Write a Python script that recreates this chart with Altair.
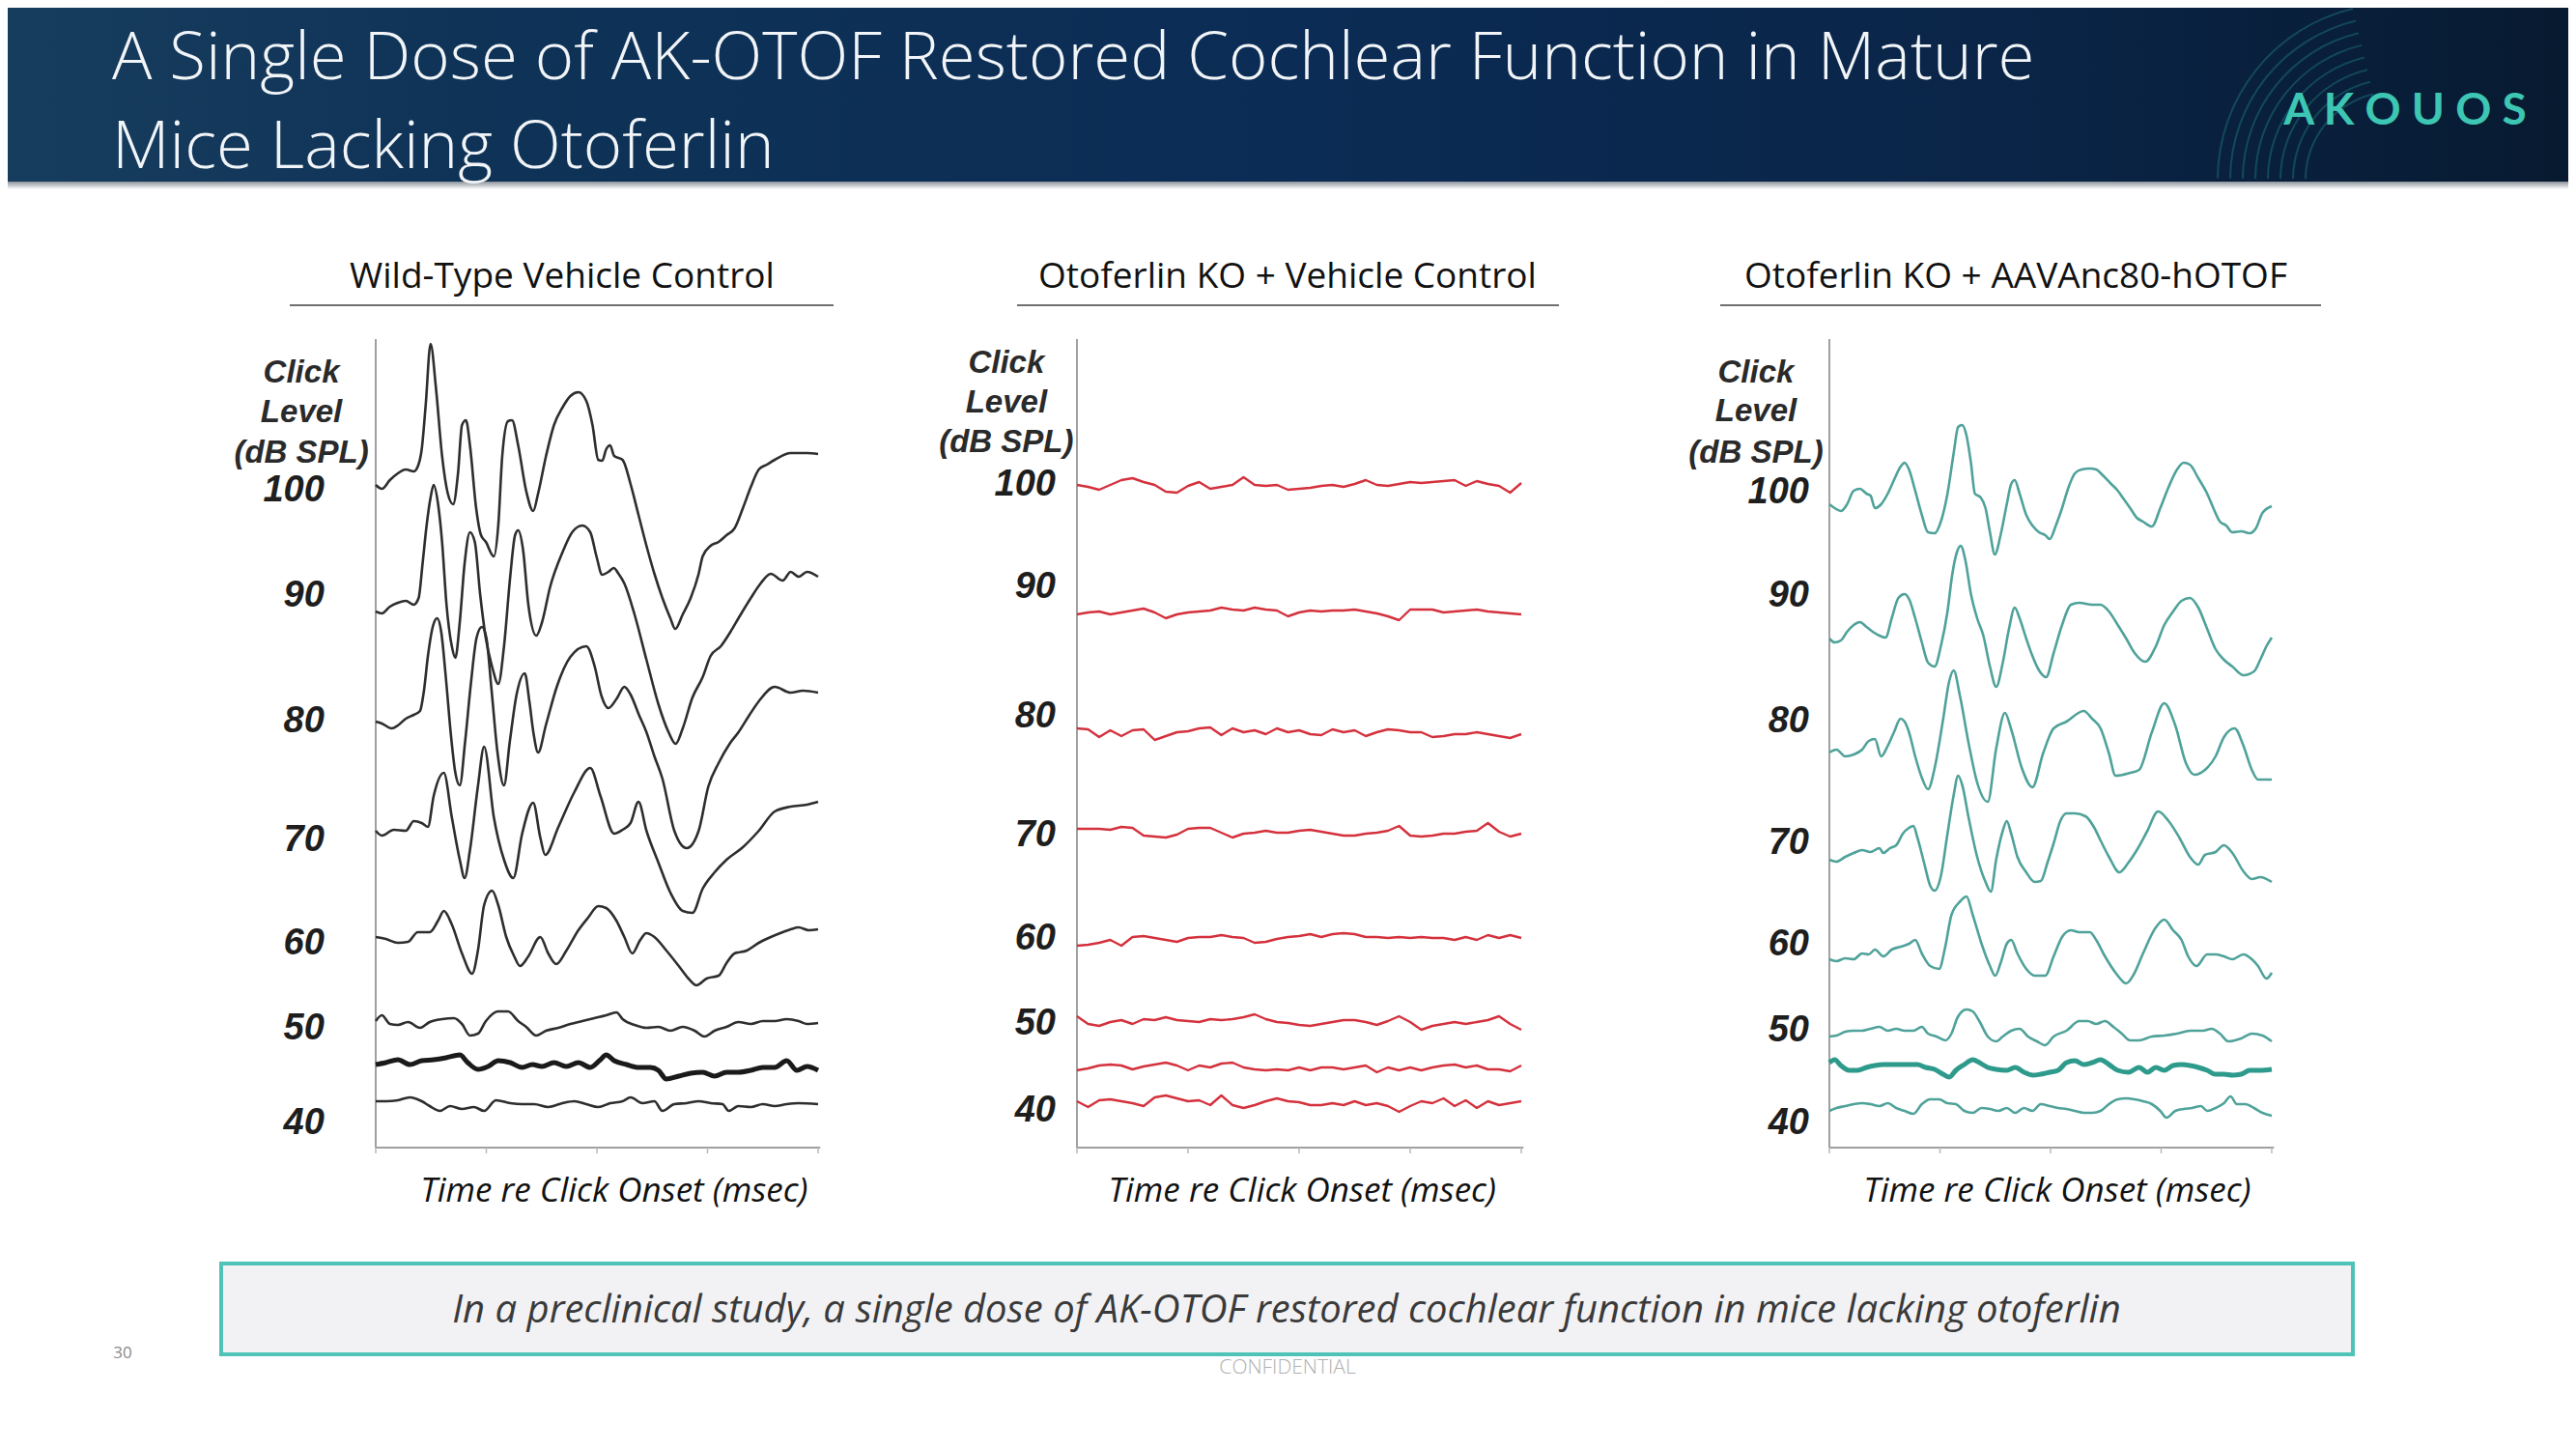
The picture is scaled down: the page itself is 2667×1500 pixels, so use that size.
import altair as alt
import pandas as pd

# ---------------- text ----------------
TITLE_LINES = ["A Single Dose of AK-OTOF Restored Cochlear Function in Mature",
               "Mice Lacking Otoferlin"]
PANEL_TITLES = ["Wild-Type Vehicle Control", "Otoferlin KO + Vehicle Control",
                "Otoferlin KO + AAVAnc80-hOTOF"]
LEVEL_LABELS = ["100", "90", "80", "70", "60", "50", "40"]
AXIS_WORDS = ["Click", "Level", "(dB SPL)"]
X_TITLE = "Time re Click Onset (msec)"
FOOTNOTE = "In a preclinical study, a single dose of AK-OTOF restored cochlear function in mice lacking otoferlin"
LOGO = "A K O U O S"
TICKS_MS = [0, 2.5, 5, 7.5, 10]

# ---------------- Panel 1: wild-type (time ms, stacked amplitude) ----------------
WT100_T = [0, .14, .32, .50, .68, .86, .95, 1.04, 1.13, 1.24, 1.36, 1.50, 1.63, 1.75, 1.86, 1.95, 2.04, 2.13, 2.27, 2.38, 2.49, 2.67, 2.77, 2.86, 2.99, 3.08, 3.22, 3.40, 3.56, 3.67, 3.85, 4.03, 4.22, 4.40, 4.58, 4.76, 4.90, 5.03, 5.12, 5.21, 5.30, 5.39, 5.58, 5.76, 5.94, 6.12, 6.30, 6.48, 6.66, 6.77, 6.94, 7.12, 7.30, 7.39, 7.57, 7.75, 7.93, 8.11, 8.30, 8.48, 8.66, 8.84, 9.02, 9.38, 9.75, 10.0]
WT100_V = [6.86, 6.82, 6.91, 6.98, 7.02, 7.00, 7.05, 7.23, 7.69, 8.32, 7.87, 7.16, 6.77, 6.66, 6.98, 7.48, 7.53, 7.27, 6.62, 6.34, 6.27, 6.12, 6.44, 7.16, 7.52, 7.53, 7.27, 6.80, 6.59, 6.77, 7.16, 7.48, 7.66, 7.78, 7.82, 7.73, 7.48, 7.12, 7.11, 7.23, 7.27, 7.16, 7.12, 6.87, 6.55, 6.23, 5.94, 5.69, 5.48, 5.37, 5.52, 5.69, 5.94, 6.12, 6.23, 6.27, 6.34, 6.41, 6.62, 6.84, 7.02, 7.07, 7.12, 7.19, 7.19, 7.18]
WT90_T = [0, .14, .32, .50, .68, .86, .97, 1.06, 1.15, 1.24, 1.31, 1.41, 1.50, 1.60, 1.72, 1.80, 1.90, 2.01, 2.13, 2.24, 2.36, 2.49, 2.63, 2.77, 2.90, 3.04, 3.15, 3.22, 3.33, 3.45, 3.63, 3.76, 3.94, 4.22, 4.44, 4.67, 4.85, 4.99, 5.12, 5.26, 5.38, 5.49, 5.62, 5.85, 6.12, 6.39, 6.62, 6.78, 6.94, 7.16, 7.39, 7.57, 7.80, 8.02, 8.20, 8.48, 8.70, 8.93, 9.20, 9.38, 9.56, 9.75, 10.0]
WT90_V = [5.55, 5.53, 5.60, 5.64, 5.66, 5.62, 5.69, 6.05, 6.44, 6.73, 6.86, 6.66, 6.27, 5.62, 5.19, 5.07, 5.44, 6.05, 6.37, 6.27, 5.73, 5.27, 4.98, 4.80, 5.19, 5.91, 6.34, 6.39, 6.19, 5.62, 5.30, 5.44, 5.80, 6.16, 6.37, 6.44, 6.37, 6.12, 5.93, 5.96, 6.00, 5.94, 5.84, 5.52, 5.05, 4.59, 4.30, 4.18, 4.34, 4.66, 4.87, 5.09, 5.19, 5.34, 5.48, 5.69, 5.84, 5.94, 5.87, 5.96, 5.91, 5.96, 5.91]
WT80_T = [0, .14, .36, .50, .68, .86, 1.00, 1.09, 1.18, 1.30, 1.39, 1.48, 1.59, 1.70, 1.80, 1.90, 2.02, 2.15, 2.28, 2.40, 2.50, 2.62, 2.75, 2.90, 3.03, 3.18, 3.37, 3.47, 3.57, 3.67, 3.85, 4.10, 4.40, 4.76, 4.95, 5.10, 5.26, 5.45, 5.62, 5.76, 5.95, 6.12, 6.30, 6.48, 6.75, 7.03, 7.30, 7.52, 7.75, 8.00, 8.20, 8.45, 8.66, 9.02, 9.38, 9.66, 10.0]
WT80_V = [4.41, 4.39, 4.34, 4.37, 4.44, 4.48, 4.52, 4.73, 5.09, 5.41, 5.48, 5.34, 4.84, 4.27, 3.88, 3.75, 4.20, 4.80, 5.28, 5.39, 5.28, 4.73, 4.10, 3.75, 4.20, 4.68, 4.91, 4.63, 4.28, 4.09, 4.38, 4.78, 5.08, 5.19, 4.98, 4.68, 4.55, 4.65, 4.77, 4.69, 4.48, 4.30, 4.05, 3.82, 3.28, 3.10, 3.28, 3.74, 3.98, 4.18, 4.30, 4.48, 4.62, 4.77, 4.71, 4.73, 4.71]
WT70_T = [0, .14, .41, .68, .86, 1.04, 1.18, 1.31, 1.54, 1.72, 1.90, 2.01, 2.13, 2.31, 2.45, 2.67, 2.90, 3.11, 3.31, 3.56, 3.72, 3.83, 4.13, 4.49, 4.85, 5.08, 5.39, 5.58, 5.76, 5.94, 6.12, 6.39, 6.66, 6.94, 7.16, 7.39, 7.66, 7.93, 8.30, 8.66, 9.02, 9.38, 9.75, 10.0]
WT70_V = [3.28, 3.23, 3.29, 3.28, 3.38, 3.36, 3.32, 3.64, 3.88, 3.42, 2.98, 2.79, 3.08, 3.74, 4.15, 3.42, 2.98, 2.79, 3.25, 3.57, 3.21, 3.03, 3.32, 3.68, 3.93, 3.64, 3.25, 3.29, 3.36, 3.58, 3.28, 2.95, 2.64, 2.45, 2.43, 2.68, 2.85, 2.98, 3.11, 3.28, 3.48, 3.53, 3.55, 3.58]
WT60_T = [0, .23, .50, .73, .95, 1.22, 1.41, 1.54, 1.72, 1.95, 2.18, 2.31, 2.45, 2.63, 2.77, 2.95, 3.13, 3.26, 3.45, 3.72, 3.90, 4.08, 4.31, 4.58, 4.80, 5.03, 5.21, 5.44, 5.62, 5.80, 5.98, 6.12, 6.30, 6.57, 6.85, 7.07, 7.25, 7.48, 7.75, 7.93, 8.11, 8.39, 8.66, 8.93, 9.20, 9.38, 9.56, 9.79, 10.0]
WT60_V = [2.18, 2.16, 2.12, 2.13, 2.23, 2.23, 2.35, 2.45, 2.31, 2.01, 1.80, 2.04, 2.51, 2.66, 2.51, 2.18, 1.98, 1.88, 1.98, 2.18, 2.01, 1.90, 2.04, 2.25, 2.38, 2.50, 2.48, 2.35, 2.18, 2.01, 2.15, 2.22, 2.18, 2.04, 1.88, 1.75, 1.68, 1.75, 1.78, 1.91, 2.01, 2.04, 2.12, 2.18, 2.23, 2.26, 2.28, 2.25, 2.26]
WT50_T = [0, .14, .32, .50, .73, 1.00, 1.22, 1.50, 1.77, 1.95, 2.13, 2.31, 2.49, 2.77, 2.99, 3.22, 3.40, 3.63, 3.85, 4.13, 4.40, 4.67, 4.94, 5.21, 5.44, 5.58, 5.85, 6.12, 6.39, 6.66, 6.94, 7.21, 7.43, 7.66, 7.93, 8.20, 8.48, 8.75, 9.02, 9.29, 9.56, 9.75, 10.0]
WT50_V = [1.31, 1.37, 1.28, 1.27, 1.30, 1.24, 1.30, 1.33, 1.34, 1.28, 1.16, 1.18, 1.31, 1.41, 1.41, 1.31, 1.25, 1.16, 1.21, 1.24, 1.28, 1.31, 1.34, 1.37, 1.40, 1.33, 1.27, 1.24, 1.25, 1.21, 1.25, 1.21, 1.15, 1.21, 1.25, 1.30, 1.28, 1.31, 1.31, 1.33, 1.31, 1.28, 1.29]
WT45_T = [0, .23, .50, .77, 1.04, 1.31, 1.59, 1.90, 2.08, 2.31, 2.54, 2.77, 3.04, 3.31, 3.54, 3.76, 4.03, 4.31, 4.58, 4.85, 5.08, 5.21, 5.39, 5.67, 5.94, 6.21, 6.39, 6.57, 6.85, 7.12, 7.39, 7.66, 7.93, 8.20, 8.48, 8.75, 9.02, 9.29, 9.52, 9.75, 10.0]
WT45_V = [.86, .88, .91, .86, .90, .91, .93, .96, .88, .81, .84, .90, .88, .83, .86, .84, .88, .84, .88, .83, .91, .96, .90, .86, .83, .83, .80, .71, .74, .77, .78, .74, .78, .78, .80, .83, .83, .90, .80, .84, .80]
WT40_T = [0, .23, .50, .77, 1.04, 1.22, 1.45, 1.68, 1.95, 2.22, 2.45, 2.72, 3.04, 3.31, 3.58, 3.90, 4.22, 4.49, 4.76, 5.03, 5.30, 5.58, 5.76, 6.03, 6.30, 6.48, 6.75, 7.03, 7.30, 7.57, 7.84, 7.98, 8.20, 8.48, 8.75, 9.02, 9.29, 9.56, 10.0]
WT40_V = [.48, .48, .49, .52, .48, .43, .38, .43, .40, .42, .38, .49, .46, .45, .45, .42, .46, .48, .45, .42, .46, .48, .52, .46, .48, .38, .45, .46, .48, .46, .45, .38, .43, .42, .45, .43, .45, .46, .45]

# ---------------- Panel 2: KO + vehicle (flat traces: baseline + read deviation) ----------------
KO_T = [0, 0.25, 0.5, 0.75, 1, 1.25, 1.5, 1.75, 2, 2.25, 2.5, 2.75, 3, 3.25, 3.5, 3.75, 4, 4.25, 4.5, 4.75, 5, 5.25, 5.5, 5.75, 6, 6.25, 6.5, 6.75, 7, 7.25, 7.5, 7.75, 8, 8.25, 8.5, 8.75, 9, 9.25, 9.5, 9.75, 10]
KO_BASE = [6.86, 5.52, 4.30, 3.28, 2.15, 1.30, 0.83, 0.46]
KO100_D = [0, -.02, -.05, 0, .05, .07, .03, 0, -.07, -.08, -.01, .03, -.04, -.02, 0, .08, 0, -.01, 0, -.05, -.04, -.03, -.01, 0, -.02, .01, .05, 0, -.01, .01, .03, .02, .03, .04, .05, -.01, .04, .01, -.01, -.08, .02]
KO90_D = [0, .02, .03, 0, .02, .04, .06, .02, -.04, 0, .02, .03, .04, .07, .05, .04, .07, .05, .04, -.02, .02, .04, .03, .04, .04, .05, .03, .01, -.02, -.06, .05, .05, .05, .02, .03, .04, .05, .03, .02, .01, 0]
KO80_D = [.04, .03, -.05, .02, -.04, .02, .03, -.08, -.04, 0, .01, .04, .05, -.03, .04, 0, .02, -.02, .04, 0, .02, -.02, -.03, .03, 0, .02, -.04, 0, .03, .02, 0, 0, -.05, -.04, -.02, -.02, 0, -.02, -.04, -.06, -.02]
KO70_D = [.02, .02, .02, .01, .04, .03, -.05, -.06, -.07, -.04, .02, .03, .03, -.02, -.07, -.03, -.02, 0, -.02, -.02, 0, .01, -.01, -.03, -.05, -.05, -.03, -.02, 0, .05, -.05, -.06, -.05, -.03, -.03, -.01, 0, .08, -.01, -.06, -.03]
KO60_D = [-.06, -.05, -.03, 0, -.06, .03, .04, .02, 0, -.02, .02, .03, .03, .05, .03, .02, -.03, -.02, .01, .03, .04, .06, .03, .06, .07, .06, .03, .03, .02, .03, .02, .03, .02, .02, 0, .03, 0, .05, .02, .05, .02]
KO50_D = [.06, -.02, -.04, 0, .02, -.02, .03, .02, .05, .02, .01, 0, .03, .02, .03, .05, .08, .03, 0, -.01, -.03, -.04, -.02, 0, .02, .02, 0, -.03, .01, .06, 0, -.08, -.04, -.02, 0, -.02, 0, .02, .06, -.02, -.08]
KO45_D = [-.03, -.01, .02, .03, .02, -.02, .01, .03, .05, .02, -.03, .02, 0, .04, .05, 0, -.02, -.03, -.02, -.03, 0, -.03, 0, 0, -.02, 0, .02, -.05, 0, -.03, 0, -.03, 0, .02, .03, 0, .02, -.02, -.02, -.04, .02]
KO40_D = [.02, -.04, .03, .04, .02, 0, -.03, .06, .08, .05, .02, .03, -.02, .08, -.02, -.05, -.02, .02, .05, .02, .01, -.02, -.02, 0, -.02, .02, -.02, 0, -.03, -.09, -.03, .02, 0, .05, -.03, .03, -.05, .02, -.02, 0, .02]

# ---------------- Panel 3: KO + AAVAnc80-hOTOF ----------------
AAV100_T = [0, .12, .26, .40, .55, .69, .84, .93, 1.03, 1.17, 1.32, 1.46, 1.61, 1.70, 1.80, 1.94, 2.09, 2.23, 2.38, 2.52, 2.67, 2.81, 2.91, 3.00, 3.10, 3.20, 3.29, 3.42, 3.53, 3.63, 3.74, 3.87, 4.01, 4.11, 4.19, 4.30, 4.45, 4.59, 4.74, 4.88, 4.98, 5.12, 5.26, 5.41, 5.55, 5.70, 5.89, 6.03, 6.18, 6.37, 6.52, 6.66, 6.80, 6.95, 7.09, 7.29, 7.48, 7.67, 7.86, 8.01, 8.15, 8.34, 8.54, 8.68, 8.83, 8.97, 9.11, 9.31, 9.50, 9.64, 9.79, 10.0]
AAV100_V = [6.66, 6.62, 6.59, 6.66, 6.80, 6.82, 6.77, 6.75, 6.62, 6.66, 6.77, 6.91, 7.05, 7.09, 7.02, 6.80, 6.55, 6.37, 6.36, 6.48, 6.77, 7.19, 7.46, 7.48, 7.37, 7.09, 6.77, 6.73, 6.62, 6.37, 6.14, 6.34, 6.66, 6.87, 6.91, 6.77, 6.55, 6.44, 6.37, 6.34, 6.30, 6.44, 6.62, 6.84, 6.98, 7.02, 7.03, 7.02, 6.96, 6.87, 6.80, 6.71, 6.62, 6.52, 6.48, 6.43, 6.62, 6.84, 7.02, 7.09, 7.07, 6.93, 6.77, 6.62, 6.48, 6.44, 6.37, 6.38, 6.36, 6.41, 6.57, 6.64]
AAV90_T = [0, .12, .26, .40, .55, .69, .84, .98, 1.13, 1.27, 1.41, 1.56, 1.70, 1.80, 1.94, 2.09, 2.23, 2.38, 2.52, 2.67, 2.78, 2.88, 2.97, 3.07, 3.20, 3.34, 3.48, 3.63, 3.77, 3.92, 4.06, 4.19, 4.30, 4.45, 4.59, 4.74, 4.90, 5.07, 5.26, 5.46, 5.65, 5.94, 6.13, 6.32, 6.52, 6.71, 6.90, 7.14, 7.38, 7.57, 7.77, 7.96, 8.15, 8.34, 8.54, 8.73, 8.92, 9.11, 9.36, 9.60, 9.74, 9.88, 10.0]
AAV90_V = [5.27, 5.23, 5.25, 5.34, 5.41, 5.44, 5.39, 5.34, 5.30, 5.28, 5.48, 5.69, 5.73, 5.68, 5.48, 5.23, 5.02, 4.98, 5.19, 5.55, 5.94, 6.16, 6.23, 6.09, 5.73, 5.48, 5.30, 4.98, 4.77, 5.02, 5.37, 5.59, 5.48, 5.27, 5.09, 4.94, 4.87, 5.12, 5.41, 5.62, 5.64, 5.62, 5.62, 5.55, 5.41, 5.27, 5.12, 5.03, 5.19, 5.41, 5.55, 5.66, 5.69, 5.59, 5.37, 5.16, 5.05, 4.98, 4.89, 4.93, 5.05, 5.19, 5.28]
AAV80_T = [0, .16, .36, .55, .74, .89, 1.03, 1.17, 1.32, 1.46, 1.61, 1.70, 1.80, 1.94, 2.09, 2.23, 2.38, 2.57, 2.71, 2.81, 2.95, 3.15, 3.34, 3.58, 3.77, 3.97, 4.11, 4.35, 4.59, 4.83, 5.07, 5.36, 5.75, 5.94, 6.13, 6.32, 6.47, 6.80, 7.00, 7.29, 7.57, 7.82, 8.06, 8.25, 8.49, 8.73, 8.92, 9.16, 9.36, 9.55, 9.69, 10.0]
AAV80_V = [4.09, 4.12, 4.05, 4.07, 4.12, 4.21, 4.23, 4.05, 4.16, 4.30, 4.44, 4.41, 4.30, 4.05, 3.83, 3.71, 3.93, 4.43, 4.83, 4.94, 4.68, 4.18, 3.78, 3.58, 4.13, 4.50, 4.33, 3.93, 3.73, 4.08, 4.34, 4.41, 4.52, 4.44, 4.34, 4.08, 3.85, 3.88, 3.91, 4.30, 4.60, 4.37, 3.98, 3.86, 3.91, 4.05, 4.25, 4.34, 4.16, 3.91, 3.81, 3.81]
AAV70_T = [0, .16, .36, .55, .74, .93, 1.13, 1.22, 1.37, 1.51, 1.66, 1.80, 1.90, 1.99, 2.14, 2.28, 2.38, 2.52, 2.67, 2.81, 2.91, 3.00, 3.15, 3.34, 3.53, 3.65, 3.77, 3.92, 4.01, 4.11, 4.25, 4.45, 4.64, 4.78, 4.93, 5.07, 5.22, 5.36, 5.55, 5.79, 5.99, 6.13, 6.32, 6.56, 6.76, 6.95, 7.19, 7.43, 7.67, 7.91, 8.15, 8.34, 8.49, 8.73, 8.92, 9.11, 9.36, 9.55, 9.74, 10.0]
AAV70_V = [2.98, 2.96, 3.01, 3.05, 3.08, 3.06, 3.10, 3.05, 3.10, 3.13, 3.25, 3.31, 3.33, 3.21, 2.95, 2.71, 2.66, 2.81, 3.25, 3.65, 3.85, 3.76, 3.41, 3.01, 2.75, 2.65, 2.98, 3.28, 3.38, 3.25, 3.01, 2.85, 2.75, 2.76, 2.95, 3.15, 3.38, 3.46, 3.46, 3.43, 3.31, 3.18, 3.01, 2.85, 2.95, 3.08, 3.28, 3.48, 3.38, 3.21, 3.01, 2.93, 3.03, 3.06, 3.13, 3.05, 2.86, 2.78, 2.80, 2.75]
AAV60_T = [0, .16, .36, .55, .74, .89, 1.03, 1.22, 1.41, 1.61, 1.80, 1.94, 2.09, 2.28, 2.48, 2.62, 2.76, 2.96, 3.10, 3.24, 3.44, 3.63, 3.75, 3.87, 4.01, 4.11, 4.25, 4.45, 4.64, 4.88, 5.07, 5.26, 5.46, 5.65, 5.89, 6.03, 6.23, 6.47, 6.71, 6.90, 7.09, 7.38, 7.57, 7.77, 7.96, 8.11, 8.30, 8.54, 8.73, 8.92, 9.11, 9.36, 9.55, 9.69, 9.88, 10.0]
AAV60_V = [1.95, 1.93, 1.96, 1.95, 2.01, 2.00, 2.05, 1.98, 2.05, 2.08, 2.11, 2.15, 2.01, 1.88, 1.85, 2.08, 2.41, 2.55, 2.60, 2.41, 2.11, 1.88, 1.78, 1.91, 2.11, 2.15, 2.01, 1.85, 1.78, 1.78, 1.98, 2.18, 2.25, 2.23, 2.23, 2.15, 1.98, 1.81, 1.70, 1.81, 2.01, 2.28, 2.36, 2.25, 2.15, 1.98, 1.88, 2.00, 2.00, 1.98, 1.95, 2.00, 1.95, 1.88, 1.75, 1.81]
AAV50_T = [0, .16, .36, .55, .74, .93, 1.13, 1.32, 1.51, 1.70, 1.90, 2.09, 2.23, 2.42, 2.62, 2.76, 2.90, 3.10, 3.24, 3.39, 3.58, 3.77, 3.92, 4.11, 4.30, 4.49, 4.69, 4.88, 5.07, 5.36, 5.65, 5.84, 6.03, 6.23, 6.42, 6.61, 6.80, 7.00, 7.29, 7.57, 7.86, 8.15, 8.44, 8.64, 8.83, 9.02, 9.31, 9.55, 9.79, 10.0]
AAV50_V = [1.15, 1.16, 1.20, 1.21, 1.21, 1.23, 1.25, 1.21, 1.23, 1.21, 1.21, 1.25, 1.18, 1.15, 1.11, 1.18, 1.35, 1.43, 1.41, 1.31, 1.15, 1.10, 1.15, 1.21, 1.23, 1.15, 1.10, 1.06, 1.15, 1.21, 1.31, 1.31, 1.28, 1.31, 1.25, 1.18, 1.11, 1.11, 1.15, 1.16, 1.18, 1.21, 1.21, 1.23, 1.18, 1.10, 1.13, 1.18, 1.16, 1.10]
AAV45_T = [0, .12, .26, .45, .64, .84, 1.03, 1.22, 1.41, 1.61, 1.80, 1.99, 2.18, 2.38, 2.57, 2.71, 2.86, 3.05, 3.24, 3.39, 3.58, 3.77, 4.01, 4.20, 4.40, 4.59, 4.78, 4.98, 5.17, 5.36, 5.55, 5.75, 5.94, 6.13, 6.32, 6.52, 6.76, 7.00, 7.19, 7.38, 7.57, 7.77, 7.96, 8.15, 8.34, 8.54, 8.73, 8.92, 9.11, 9.31, 9.50, 9.74, 10.0]
AAV45_V = [.88, .91, .85, .80, .80, .83, .85, .86, .86, .86, .86, .86, .83, .81, .76, .73, .80, .86, .91, .88, .83, .81, .80, .83, .78, .75, .76, .78, .80, .88, .90, .86, .88, .91, .86, .80, .78, .83, .78, .83, .80, .85, .86, .85, .83, .80, .76, .76, .75, .76, .80, .80, .81]
AAV40_T = [0, .16, .36, .55, .74, .93, 1.13, 1.32, 1.51, 1.70, 1.90, 2.09, 2.28, 2.48, 2.67, 2.86, 3.05, 3.24, 3.44, 3.63, 3.82, 4.01, 4.20, 4.40, 4.59, 4.78, 4.98, 5.17, 5.36, 5.55, 5.75, 5.94, 6.13, 6.32, 6.52, 6.71, 6.90, 7.09, 7.29, 7.48, 7.62, 7.82, 8.01, 8.20, 8.40, 8.54, 8.73, 8.92, 9.07, 9.21, 9.40, 9.60, 9.79, 10.0]
AAV40_V = [.38, .41, .43, .45, .46, .45, .43, .46, .41, .38, .35, .45, .50, .50, .46, .45, .38, .36, .41, .40, .38, .41, .36, .41, .38, .45, .43, .41, .40, .38, .36, .36, .38, .45, .50, .51, .50, .48, .45, .38, .31, .38, .40, .41, .43, .38, .41, .46, .53, .45, .45, .41, .36, .33]

# label positions (stacked amplitude units) and horizontal offsets (ms) per panel
WT_NUM_V = [6.80, 5.71, 4.41, 3.18, 2.11, 1.23, 0.25]
WT_WORD_V = [8.02, 7.61, 7.19]
KO_NUM_V = [6.86, 5.80, 4.46, 3.23, 2.16, 1.28, 0.38]
KO_WORD_V = [8.12, 7.71, 7.30]
AAV_NUM_V = [6.78, 5.71, 4.41, 3.15, 2.10, 1.21, 0.25]
AAV_WORD_V = [8.02, 7.62, 7.19]
XTITLE_T = [5.39, 5.07, 5.15]

ARC_RADII = [92, 105, 118, 131, 144, 157, 170, 183]

W, H = 2651, 1476
ONE = pd.DataFrame({"k": [0]})
LEVELS = [100, 90, 80, 70, 60, 50, 45, 40]


def trace_frame(traces):
    rows = []
    for lvl, ts, vs in traces:
        for i, (t, v) in enumerate(zip(ts, vs)):
            rows.append({"level": lvl, "i": i, "t": t, "v": v, "thick": lvl == 45})
    return pd.DataFrame(rows)


def panel(traces, color, thick_color, xr, num_t, word_t, num_v, word_v, xt_t, interp, thin_w, thick_w):
    X = alt.Scale(domain=[0, 10], range=xr, nice=False, zero=False)
    Y = alt.Scale(domain=[0, 8.4], range=[1180, 340], nice=False, zero=False)
    df = trace_frame(traces)
    enc = dict(x=alt.X("t:Q", scale=X, axis=None), y=alt.Y("v:Q", scale=Y, axis=None))
    thin = alt.Chart(df).transform_filter("!datum.thick").mark_line(
        color=color, strokeWidth=thin_w, interpolate=interp, strokeJoin="round"
    ).encode(detail="level:N", order="i:Q", **enc)
    thick = alt.Chart(df).transform_filter("datum.thick").mark_line(
        color=thick_color, strokeWidth=thick_w, interpolate=interp, strokeJoin="round"
    ).encode(detail="level:N", order="i:Q", **enc)
    yax = alt.Chart(pd.DataFrame({"t": [0], "v": [0], "v2": [8.37]})).mark_rule(
        color="#a0a0a0", strokeWidth=2).encode(y2="v2:Q", **enc)
    xax = alt.Chart(pd.DataFrame({"t": [0], "t2": [10.05], "v": [0]})).mark_rule(
        color="#a0a0a0", strokeWidth=2).encode(x2="t2:Q", **enc)
    ticks = alt.Chart(pd.DataFrame({"t": TICKS_MS, "v": [0] * 5, "v2": [-0.06] * 5})).mark_rule(
        color="#b8b8b8", strokeWidth=1.5).encode(y2="v2:Q", **enc)
    nums = alt.Chart(pd.DataFrame({"t": [num_t] * 7, "v": num_v, "txt": LEVEL_LABELS})).mark_text(
        align="right", baseline="middle", font="Liberation Sans", fontStyle="italic",
        fontWeight="bold", fontSize=38, color="#1e1e1e").encode(text="txt:N", **enc)
    words = alt.Chart(pd.DataFrame({"t": [word_t] * 3, "v": word_v, "txt": AXIS_WORDS})).mark_text(
        align="center", baseline="middle", font="Liberation Sans", fontStyle="italic",
        fontWeight="bold", fontSize=33, color="#2a2a2a").encode(text="txt:N", **enc)
    xtitle = alt.Chart(pd.DataFrame({"t": [xt_t], "v": [-0.45], "txt": [X_TITLE]})).mark_text(
        align="center", baseline="middle", font="Open Sans", fontStyle="italic",
        fontSize=35, color="#111111").encode(text="txt:N", **enc)
    return alt.layer(yax, xax, ticks, thin, thick, nums, words, xtitle)


p1 = panel([(100, WT100_T, WT100_V), (90, WT90_T, WT90_V), (80, WT80_T, WT80_V), (70, WT70_T, WT70_V),
            (60, WT60_T, WT60_V), (50, WT50_T, WT50_V), (45, WT45_T, WT45_V), (40, WT40_T, WT40_V)],
           "#2e2e2e", "#1a1a1a", [381, 839], -1.16, -1.68, WT_NUM_V, WT_WORD_V, XTITLE_T[0],
           "monotone", 2.6, 5)

KO_DEV = [KO100_D, KO90_D, KO80_D, KO70_D, KO60_D, KO50_D, KO45_D, KO40_D]
ko_traces = []
for lvl, base, dev in zip(LEVELS, KO_BASE, KO_DEV):
    ko_traces.append((lvl, KO_T, [base + d for d in dev]))
p2 = panel(ko_traces, "#d4313d", "#d4313d", [1107, 1567], -0.48, -1.59, KO_NUM_V, KO_WORD_V,
           XTITLE_T[1], "linear", 2.4, 2.4)

p3 = panel([(100, AAV100_T, AAV100_V), (90, AAV90_T, AAV90_V), (80, AAV80_T, AAV80_V), (70, AAV70_T, AAV70_V),
            (60, AAV60_T, AAV60_V), (50, AAV50_T, AAV50_V), (45, AAV45_T, AAV45_V), (40, AAV40_T, AAV40_V)],
           "#4fa29a", "#2e9a8c", [1886, 2344], -0.46, -1.66, AAV_NUM_V, AAV_WORD_V, XTITLE_T[2],
           "monotone", 2.6, 5)

# ---------------- slide decorations ----------------
header = alt.Chart(ONE).mark_rect(
    color=alt.LinearGradient(gradient="linear", x1=0, x2=1, y1=0, y2=0, stops=[
        alt.GradientStop(color="#173d5e", offset=0),
        alt.GradientStop(color="#0f3357", offset=0.18),
        alt.GradientStop(color="#0b2c55", offset=0.5),
        alt.GradientStop(color="#0a2446", offset=0.8),
        alt.GradientStop(color="#071a30", offset=1)])
).encode(x=alt.value(0), x2=alt.value(W), y=alt.value(0), y2=alt.value(180))
shadow = alt.Chart(ONE).mark_rect(
    color=alt.LinearGradient(gradient="linear", x1=0, x2=0, y1=0, y2=1, stops=[
        alt.GradientStop(color="#8d949c", offset=0),
        alt.GradientStop(color="#ffffff", offset=1)])
).encode(x=alt.value(0), x2=alt.value(W), y=alt.value(180), y2=alt.value(188))
arcs = alt.Chart(pd.DataFrame({"r": ARC_RADII, "r2": [r - 2 for r in ARC_RADII]})).mark_arc(
    theta=4.72, theta2=6.05, color="#2fb3a6", opacity=0.28
).encode(x=alt.value(2470), y=alt.value(178),
         radius=alt.Radius("r:Q", scale=None), radius2=alt.Radius2("r2:Q"))

title_layers = []
for txt, yb in zip(TITLE_LINES, [74, 166]):
    title_layers.append(alt.Chart(ONE).mark_text(
        text=txt, align="left", baseline="alphabetic", font="Open Sans", fontWeight=300,
        fontSize=69, color="#f2f5f8").encode(x=alt.value(108), y=alt.value(yb)))

logo = alt.Chart(ONE).mark_text(
    text=LOGO, align="center", baseline="alphabetic", font="Lato", fontWeight="bold",
    fontSize=46, color="#3cc6b3").encode(x=alt.value(2482), y=alt.value(121))

ptitle_layers = []
for txt, cx, ux1, ux2 in zip(PANEL_TITLES, [574, 1325, 2079], [292, 1045, 1773], [855, 1606, 2395]):
    ptitle_layers.append(alt.Chart(ONE).mark_text(
        text=txt, align="center", baseline="alphabetic", font="Open Sans", fontSize=37,
        color="#111111").encode(x=alt.value(cx), y=alt.value(290)))
    ptitle_layers.append(alt.Chart(ONE).mark_rule(color="#707070", strokeWidth=2).encode(
        x=alt.value(ux1), x2=alt.value(ux2), y=alt.value(308)))

box = alt.Chart(ONE).mark_rect(fill="#f2f2f4", stroke="#4fc3b8", strokeWidth=4).encode(
    x=alt.value(221), x2=alt.value(2428), y=alt.value(1300), y2=alt.value(1394))
box_text = alt.Chart(ONE).mark_text(
    text=FOOTNOTE, align="center", baseline="alphabetic", font="Open Sans", fontStyle="italic",
    fontSize=40, color="#3a3a3a").encode(x=alt.value(1324), y=alt.value(1361))
page_no = alt.Chart(ONE).mark_text(
    text="30", align="center", baseline="middle", font="Open Sans", fontSize=17,
    color="#8a8a8a").encode(x=alt.value(119), y=alt.value(1393))
confidential = alt.Chart(ONE).mark_text(
    text="CONFIDENTIAL", align="center", baseline="middle", font="Open Sans", fontWeight=300,
    fontSize=21, color="#b0b0b0").encode(x=alt.value(1325), y=alt.value(1408))

chart = alt.layer(
    header, arcs, shadow, *title_layers, logo, *ptitle_layers, p1, p2, p3, box, box_text, page_no,
    confidential
).resolve_scale(x="independent", y="independent").properties(
    width=W, height=H, padding=0, autosize="none", background="white"
).configure_view(stroke=None)

chart.save("out.html", embed_options={"renderer": "svg", "actions": False})
